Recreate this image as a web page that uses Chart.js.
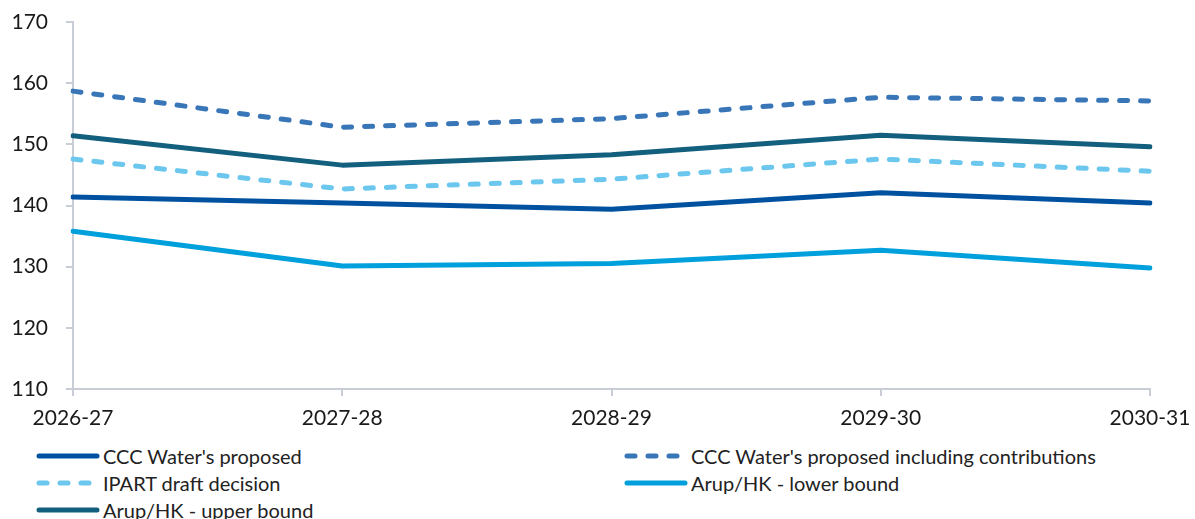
<!DOCTYPE html>
<html>
<head>
<meta charset="utf-8">
<script src="https://cdn.jsdelivr.net/npm/chart.js@4"></script>
<style>
  html, body { margin: 0; padding: 0; background: #fff; }
  #wrap { position: relative; width: 1195px; height: 519px; overflow: hidden; }
  #chart { position: absolute; left: 0; top: 0; }
  #legend { position: absolute; left: 0; top: 440px; width: 1195px; height: 79px; }
  .item { position: absolute; display: flex; align-items: center; height: 27px;
          font-family: Lato, "Noto Sans", sans-serif; font-size: 20px; color: #222; }
  .item svg { margin-right: 3px; }
</style>
</head>
<body>
<div id="wrap">
  <canvas id="chart" width="1195" height="440"></canvas>
  <div id="legend"></div>
</div>
<script>
// Financial years on the x axis
const years = ['2026-27', '2027-28', '2028-29', '2029-30', '2030-31'];

// Series values
const cccProposed = [141.4, 140.4, 139.4, 142.1, 140.4];
const cccWithContributions = [158.7, 152.8, 154.2, 157.7, 157.1];
const ipartDraft = [147.6, 142.7, 144.3, 147.6, 145.6];
const arupLower = [135.8, 130.1, 130.5, 132.7, 129.8];
const arupUpper = [151.4, 146.6, 148.3, 151.5, 149.6];

const axisColor = '#c9cdd5';
const font = { family: 'Lato, "Noto Sans", sans-serif', size: 21 };

function series(label, data, color, dashed) {
    return {
        label: label,
        data: data,
        borderColor: color,
        backgroundColor: color,
        borderWidth: 5,
        borderDash: dashed ? [8, 13] : [],
        borderCapStyle: 'round',
        borderJoinStyle: 'round',
        pointRadius: 0,
        tension: 0,
        fill: false
    };
}

const datasets = [
    series("CCC Water's proposed", cccProposed, '#0052a1', false),
    series("CCC Water's proposed including contributions", cccWithContributions, '#3976b8', true),
    series('IPART draft decision', ipartDraft, '#6bc7ee', true),
    series('Arup/HK - lower bound', arupLower, '#00a0dc', false),
    series('Arup/HK - upper bound', arupUpper, '#135f7e', false)
];

// Keep the plot area fixed: labels may overflow into the page margins
function fixX(s) {
    s.height = 51;
    s.paddingLeft = 0;
    s.paddingRight = 0;
}
function fixY(s) {
    s.width = 73;
    s.paddingTop = 0;
    s.paddingBottom = 0;
}

const chart = new Chart(document.getElementById('chart'), {
    type: 'line',
    data: { labels: years, datasets: datasets },
    options: {
        responsive: false,
        animation: false,
        layout: { padding: { top: 22, right: 45, left: 0, bottom: 0 } },
        plugins: { legend: { display: false }, tooltip: { enabled: false } },
        scales: {
            x: {
                offset: false,
                grid: { display: true, drawOnChartArea: false, tickLength: 7, color: axisColor, lineWidth: 2 },
                border: { display: true, color: axisColor, width: 2 },
                ticks: { font: font, color: '#1a1a1a', padding: 10, maxRotation: 0, autoSkip: false },
                afterFit: fixX
            },
            y: {
                min: 110,
                max: 170,
                ticks: { stepSize: 10, font: font, color: '#1a1a1a', padding: 18 },
                grid: { display: true, drawOnChartArea: false, tickLength: 7, color: axisColor, lineWidth: 2 },
                border: { display: true, color: axisColor, width: 2 },
                afterFit: fixY
            }
        }
    }
});

// Two-column legend built from the chart's datasets
const slots = [
    { left: 36, top: 2 },
    { left: 624, top: 2 },
    { left: 36, top: 29 },
    { left: 624, top: 29 },
    { left: 36, top: 56 }
];
const legend = document.getElementById('legend');
chart.data.datasets.forEach((ds, i) => {
    const el = document.createElement('div');
    el.className = 'item';
    el.style.left = slots[i].left + 'px';
    el.style.top = slots[i].top + 'px';
    const dash = ds.borderDash.length ? `stroke-dasharray="${ds.borderDash.join(' ')}"` : '';
    el.innerHTML = `<svg width="64" height="10"><line x1="3" y1="5" x2="61" y2="5" stroke="${ds.borderColor}" stroke-width="5" stroke-linecap="round" ${dash}/></svg><span>${ds.label}</span>`;
    legend.appendChild(el);
});
</script>
</body>
</html>
